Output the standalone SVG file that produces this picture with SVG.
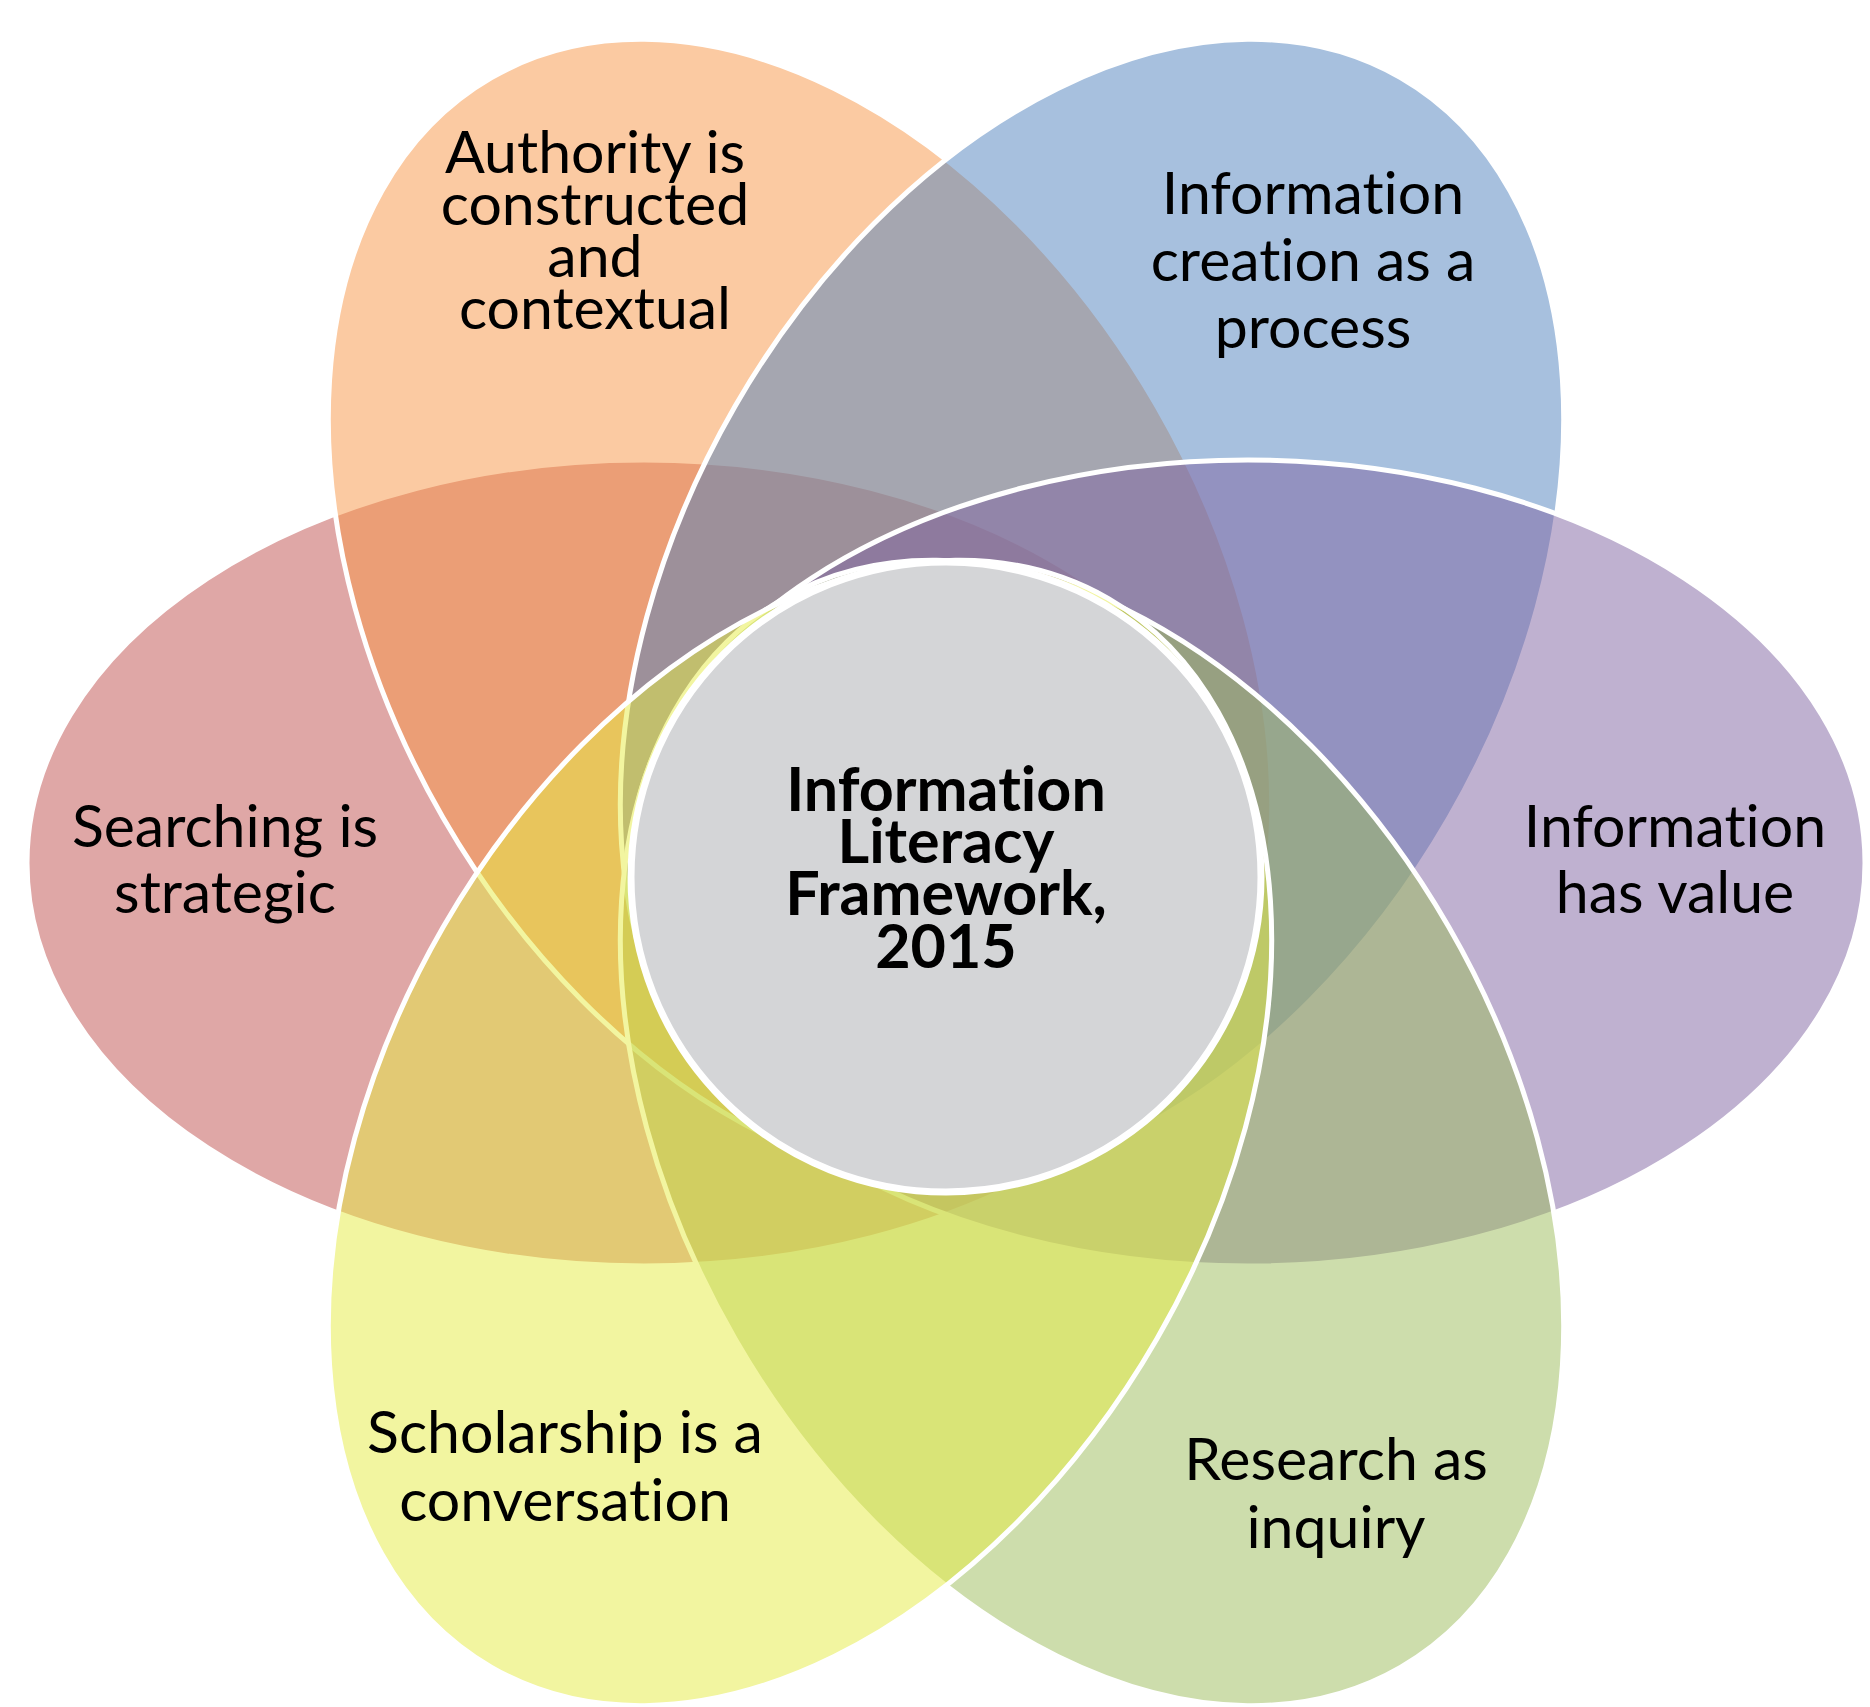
<svg xmlns="http://www.w3.org/2000/svg" width="1870" height="1707" viewBox="0 0 1870 1707">
  <style>
    .petal { fill-opacity: 0.5; stroke: #ffffff; stroke-width: 5; }
    .hub { fill: #d4d5d7; stroke: #ffffff; stroke-width: 7; }
    text { font-family: Lato, "Open Sans", sans-serif; fill: #000000; text-anchor: middle;
           font-variant-ligatures: none; font-feature-settings: "liga" 0, "clig" 0; }
    .lbl { font-size: 59px; }
    .hub-lbl { font-size: 61px; font-weight: bold; }
  </style>
  <rect width="1870" height="1707" fill="#ffffff"/>

  <!-- petals, drawn clockwise from the left so later ones overlap earlier ones -->
  <g id="searching">
    <ellipse class="petal" cx="644" cy="863" rx="617" ry="403" fill="#c0504d"/>
    <text class="lbl" x="225"><tspan x="225" y="847">Searching is</tspan><tspan x="225" y="913">strategic</tspan></text>
  </g>
  <g id="authority">
    <ellipse class="petal" cx="0" cy="0" rx="617" ry="412" fill="#f79646" transform="translate(800 612) rotate(60)"/>
    <text class="lbl" x="595"><tspan x="595" y="173">Authority is</tspan><tspan x="595" y="225">constructed</tspan><tspan x="595" y="277">and</tspan><tspan x="595" y="329">contextual</tspan></text>
  </g>
  <g id="creation">
    <ellipse class="petal" cx="0" cy="0" rx="617" ry="412" fill="#4f81bd" transform="translate(1092 612) rotate(-60)"/>
    <text class="lbl" x="1313"><tspan x="1313" y="214">Information</tspan><tspan x="1313" y="281">creation as a</tspan><tspan x="1313" y="348">process</tspan></text>
  </g>
  <g id="value">
    <ellipse class="petal" cx="1248" cy="863" rx="617" ry="403" fill="#8064a2"/>
    <text class="lbl" x="1675"><tspan x="1675" y="847">Information</tspan><tspan x="1675" y="913">has value</tspan></text>
  </g>
  <g id="inquiry">
    <ellipse class="petal" cx="0" cy="0" rx="617" ry="412" fill="#9bbb59" transform="translate(1092 1133) rotate(60)"/>
    <text class="lbl" x="1336"><tspan x="1336" y="1480">Research as</tspan><tspan x="1336" y="1548">inquiry</tspan></text>
  </g>
  <g id="conversation">
    <ellipse class="petal" cx="0" cy="0" rx="617" ry="412" fill="#e5eb41" transform="translate(800 1133) rotate(-60)"/>
    <text class="lbl" x="565"><tspan x="565" y="1453">Scholarship is a</tspan><tspan x="565" y="1521">conversation</tspan></text>
  </g>

  <!-- central hub -->
  <g id="framework">
    <circle class="hub" cx="946" cy="877" r="315"/>
    <text class="hub-lbl" x="946"><tspan x="946" y="811">Information</tspan><tspan x="946" y="863">Literacy</tspan><tspan x="946" y="915">Framework,</tspan><tspan x="946" y="968">2015</tspan></text>
  </g>

  <!-- no connectors in this diagram -->
  <g id="connectors"/>
</svg>
